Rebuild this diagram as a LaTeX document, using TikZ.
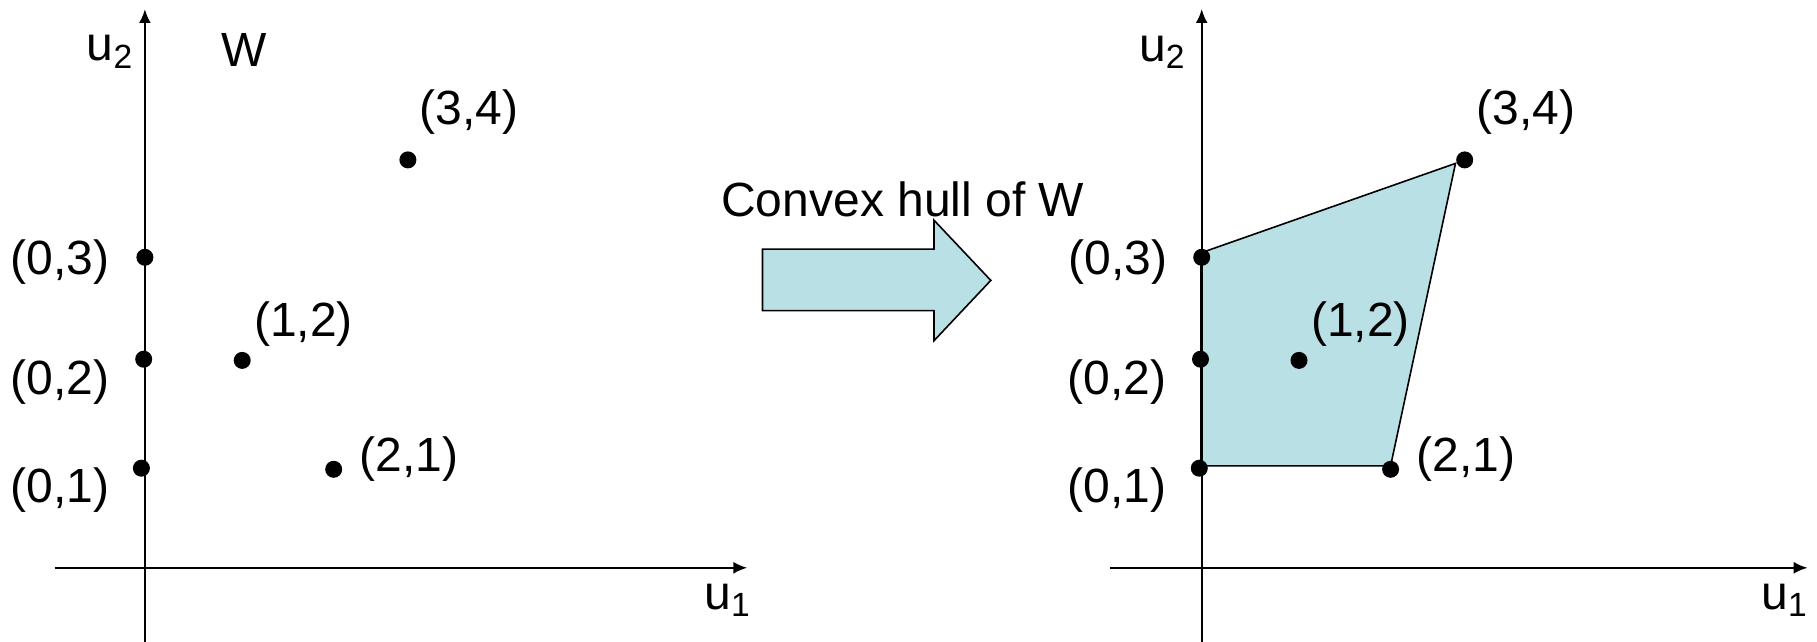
\documentclass[tikz,border=0pt]{standalone}
\usepackage{fontspec}
\setmainfont{Liberation Sans}
\usetikzlibrary{arrows.meta}
\definecolor{hullfill}{RGB}{185,224,228}
\tikzset{
  axis/.style={line width=1.2pt,-{Latex[length=7pt,width=6pt]}},
  dot/.style={circle,fill=black,inner sep=0pt,minimum size=8.5pt},
  lbl/.style={font=\fontsize{24}{28}\selectfont,inner sep=0pt},
  hull/.style={fill=hullfill,draw=black,line width=0.8pt},
  blockarrow/.style={fill=hullfill,draw=black,line width=0.8pt}
}
\begin{document}
\begin{tikzpicture}[x=0.5pt,y=-0.5pt]
\useasboundingbox (0,0) rectangle (1817,642);
% ---------- left panel ----------
\coordinate (Lyb) at (144.9,642);
\coordinate (Lyt) at (144.9,9);
\coordinate (Lxl) at (54.5,567.8);
\coordinate (Lxr) at (747.4,567.8);
\draw[axis] (Lyb) -- (Lyt);
\draw[axis] (Lxl) -- (Lxr);
\node[dot] (L03) at (144.9,257.3) {};
\node[dot] (L02) at (143.7,359.2) {};
\node[dot] (L01) at (141.4,468.2) {};
\node[dot] (L12) at (242.2,360.4) {};
\node[dot] (L21) at (333.7,469.3) {};
\node[dot] (L34) at (407.9,159.9) {};
\node[lbl] (Lu2) at (110,52) {u\textsubscript{2}};
\node[lbl] (LW) at (244.5,49.8) {W};
\node[lbl] (Lt34) at (469,112.4) {(3,4)};
\node[lbl] (Lt03) at (60.3,262) {(0,3)};
\node[lbl] (Lt12) at (303.6,324.5) {(1,2)};
\node[lbl] (Lt02) at (60.3,382.4) {(0,2)};
\node[lbl] (Lt21) at (409,459) {(2,1)};
\node[lbl] (Lt01) at (60.3,490.2) {(0,1)};
\node[lbl] (Lu1) at (727.7,600.3) {u\textsubscript{1}};
% ---------- block arrow ----------
\draw[blockarrow] (762.5,249.1) -- (934,249.1) -- (934,220.2) -- (990.8,280.4)
  -- (934,340.7) -- (934,310.6) -- (762.5,310.6) -- cycle;
\node[lbl] (conv) at (902.7,199.3) {Convex hull of W};
% ---------- right panel ----------
\coordinate (Ryb) at (1201.7,642);
\coordinate (Ryt) at (1201.7,9);
\coordinate (Rxl) at (1110.1,567.8);
\coordinate (Rxr) at (1807.7,567.8);
\coordinate (P1) at (1201.7,252.6);
\coordinate (P2) at (1455.5,163.4);
\coordinate (P3) at (1390.6,465.8);
\coordinate (P4) at (1201.7,465.8);
\draw[hull] (P1) -- (P2) -- (P3) -- (P4) -- cycle;
\draw[axis] (Ryb) -- (Ryt);
\draw[axis] (Rxl) -- (Rxr);
\draw[line width=1.6pt] (P4) -- (P1);
\node[dot] (R03) at (1201.7,257.3) {};
\node[dot] (R02) at (1200.5,359.2) {};
\node[dot] (R01) at (1199.3,468.2) {};
\node[dot] (R12) at (1299,360.4) {};
\node[dot] (R21) at (1390.6,469.3) {};
\node[dot] (R34) at (1464.7,159.9) {};
\node[lbl] (Ru2) at (1162.3,52.1) {u\textsubscript{2}};
\node[lbl] (Rt34) at (1526.1,112.4) {(3,4)};
\node[lbl] (Rt03) at (1118.2,261.9) {(0,3)};
\node[lbl] (Rt12) at (1360.4,324.5) {(1,2)};
\node[lbl] (Rt02) at (1117,382.4) {(0,2)};
\node[lbl] (Rt21) at (1465.9,458.9) {(2,1)};
\node[lbl] (Rt01) at (1117,490.2) {(0,1)};
\node[lbl] (Ru1) at (1784.5,600.3) {u\textsubscript{1}};
\end{tikzpicture}
\end{document}
